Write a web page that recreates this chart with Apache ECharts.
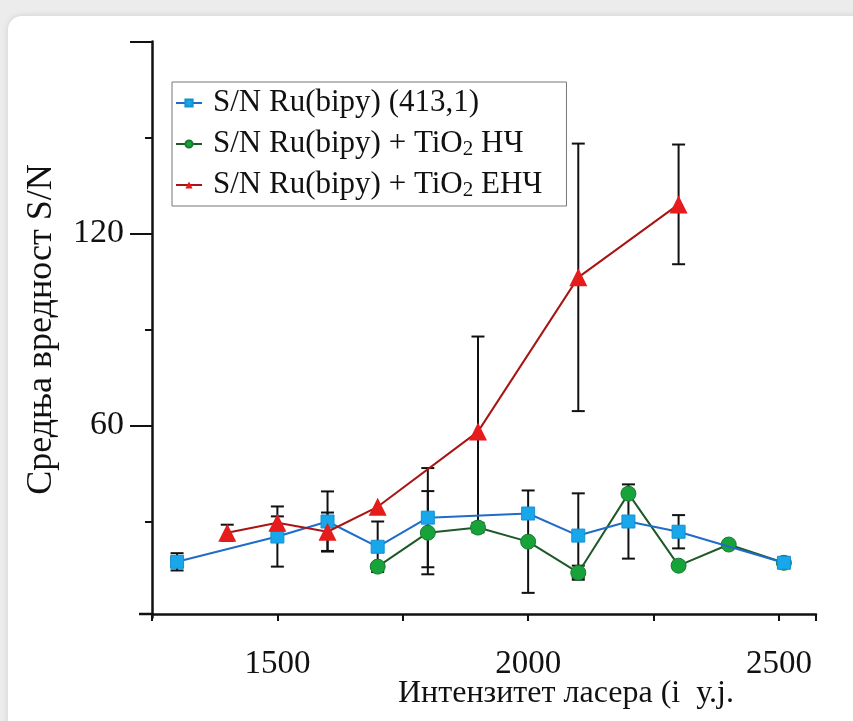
<!DOCTYPE html>
<html>
<head>
<meta charset="utf-8">
<title>S/N</title>
<script src="https://cdn.jsdelivr.net/npm/echarts@6/dist/echarts.min.js"></script>
<style>
  body { margin: 0; background: #ececec; }
  #card { position: absolute; left: 8px; top: 16px; width: 860px; height: 720px; background: #fff; border-radius: 14px; box-shadow: 0 0 6px rgba(0,0,0,0.12); }
  #main { position: absolute; left: 0; top: 0; width: 853px; height: 721px; }
</style>
</head>
<body>
<div id="card"></div>
<div id="main"></div>
<script>
// S/N Ru(bipy) (413,1)
var blueX = [1300, 1500, 1600, 1700, 1800, 2000, 2100, 2200, 2300, 2510];
var blueY = [17.4, 25.3, 30.0, 22.1, 31.2, 32.5, 25.6, 30.0, 26.8, 17.1];
var blueErr = [2.7, 9.4, 9.4, 7.9, 15.5, 0, 13.2, 11.6, 5.2, 0];
// S/N Ru(bipy) + TiO2 НЧ
var greenX = [1700, 1800, 1900, 2000, 2100, 2200, 2300, 2400, 2510];
var greenY = [15.9, 26.5, 28.1, 23.7, 14.0, 38.7, 16.2, 22.8, 17.1];
var greenErr = [1, 13, 1.5, 16, 2.2, 1, 1, 0, 0];
// S/N Ru(bipy) + TiO2 ЕНЧ
var redX = [1400, 1500, 1600, 1700, 1900, 2100, 2300];
var redY = [26.5, 29.6, 26.8, 34.6, 58.1, 106.3, 129.1];
var redErr = [2.5, 2, 6, 0, 29.7, 41.8, 18.7];

var names = ['S/N Ru(bipy) (413,1)', 'S/N Ru(bipy) + TiO2 НЧ', 'S/N Ru(bipy) + TiO2 ЕНЧ'];
var yTicks = [60, 120, 180];
var yLabels = [60, 120];

function pairs(xs, ys) {
  var out = [];
  for (var i = 0; i < xs.length; i++) out.push([xs[i], ys[i]]);
  return out;
}
function errData(xs, ys, es) {
  var out = [];
  for (var i = 0; i < xs.length; i++) {
    if (es[i] > 0) out.push([xs[i], ys[i] - es[i], ys[i] + es[i]]);
  }
  return out;
}
function errSeries(data) {
  return {
    type: 'custom',
    z: 1,
    silent: true,
    data: data,
    encode: { x: 0, y: [1, 2] },
    renderItem: function (params, api) {
      var lo = api.coord([api.value(0), api.value(1)]);
      var hi = api.coord([api.value(0), api.value(2)]);
      var w = 6.5;
      var st = { stroke: '#111', lineWidth: 2 };
      return {
        type: 'group',
        children: [
          { type: 'line', shape: { x1: lo[0], y1: lo[1], x2: hi[0], y2: hi[1] }, style: st },
          { type: 'line', shape: { x1: lo[0] - w, y1: lo[1], x2: lo[0] + w, y2: lo[1] }, style: st },
          { type: 'line', shape: { x1: hi[0] - w, y1: hi[1], x2: hi[0] + w, y2: hi[1] }, style: st }
        ]
      };
    }
  };
}

var chart = echarts.init(document.getElementById('main'));
var font = '"Liberation Serif", "Times New Roman", serif';
var option = {
  animation: false,
  grid: { left: 152, top: 41.5, width: 664, height: 576 },
  legend: {
    left: 172, top: 82,
    orient: 'vertical',
    data: names,
    itemWidth: 26, itemHeight: 9, itemGap: 9,
    padding: [5, 24, 5, 3],
    borderColor: '#777', borderWidth: 1,
    formatter: function (n) { return n.replace('TiO2', 'TiO{sub|2}'); },
    textStyle: {
      fontFamily: font, fontSize: 31, color: '#111', lineHeight: 32, padding: [0, 0, 0, 6],
      rich: { sub: { fontFamily: font, fontSize: 21, color: '#111', verticalAlign: 'bottom', lineHeight: 28 } }
    }
  },
  xAxis: {
    type: 'value', min: 1250, max: 2574, interval: 250, offset: -3.5,
    axisLine: { lineStyle: { color: '#111', width: 2.5 } },
    axisTick: { length: 7, lineStyle: { color: '#111', width: 2 } },
    axisLabel: {
      margin: 34, fontFamily: font, fontSize: 33, color: '#111',
      formatter: function (v) { return v % 500 === 0 ? v : ''; }
    },
    splitLine: { show: false }
  },
  yAxis: {
    type: 'value', min: 0, max: 180, interval: 60,
    name: 'Средња вредност S/N', nameLocation: 'middle', nameGap: 92,
    nameTextStyle: { fontFamily: font, fontSize: 36, color: '#111' },
    axisLine: { show: true, lineStyle: { color: '#111', width: 2.5 } },
    axisTick: { show: true, length: 22, customValues: yTicks, lineStyle: { color: '#111', width: 2 } },
    minorTick: { show: true, splitNumber: 2, length: 7, lineStyle: { color: '#111', width: 2 } },
    axisLabel: {
      margin: 28, fontFamily: font, fontSize: 34, color: '#111',
      customValues: yLabels
    },
    splitLine: { show: false }
  },
  graphic: [
    { type: 'line', shape: { x1: 139, y1: 614, x2: 153, y2: 614 }, style: { stroke: '#111', lineWidth: 2.5 } },
    { type: 'text', left: 398, top: 678, style: { text: 'Интензитет ласера (i  у.j.', font: '32px "Liberation Serif", serif', fill: '#111' } }
  ],
  series: [
    errSeries(errData(blueX, blueY, blueErr)),
    errSeries(errData(greenX, greenY, greenErr)),
    errSeries(errData(redX, redY, redErr)),
    {
      name: names[1], type: 'line', z: 3, data: pairs(greenX, greenY),
      symbol: 'circle', symbolSize: 15,
      lineStyle: { color: '#1d5a27', width: 2 },
      itemStyle: { color: '#18a33a', borderColor: '#167a30', borderWidth: 1 }
    },
    {
      name: names[0], type: 'line', z: 4, data: pairs(blueX, blueY),
      symbol: 'rect', symbolSize: 13,
      lineStyle: { color: '#1f6cc9', width: 2 },
      itemStyle: { color: '#17a7ea', borderColor: '#1790d0', borderWidth: 1 }
    },
    {
      name: names[2], type: 'line', z: 5, data: pairs(redX, redY),
      symbol: 'triangle', symbolSize: 18,
      lineStyle: { color: '#a81414', width: 2 },
      itemStyle: { color: '#e61b1b' }
    }
  ]
};
chart.setOption(option);
</script>
</body>
</html>
